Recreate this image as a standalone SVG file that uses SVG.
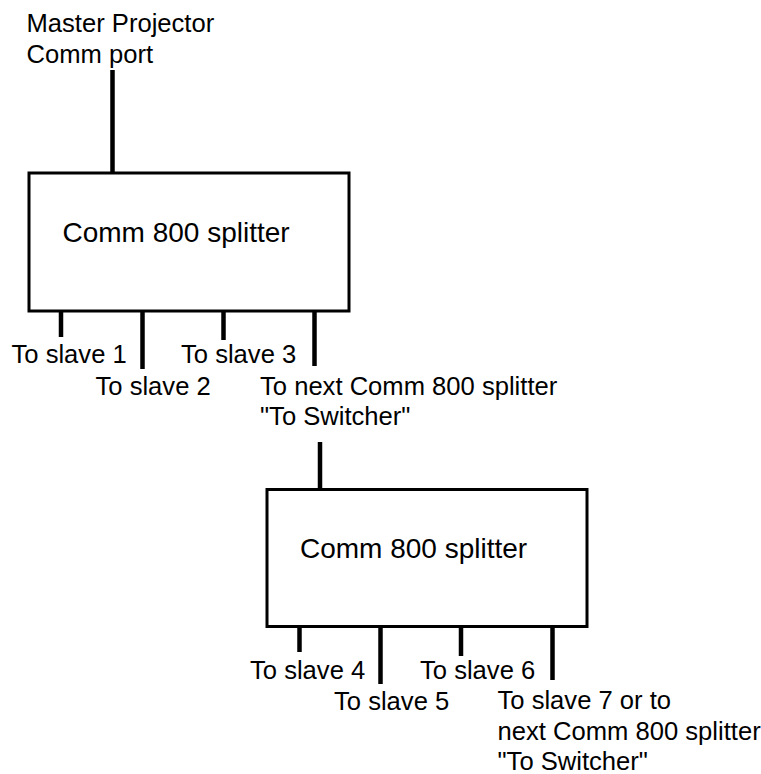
<svg xmlns="http://www.w3.org/2000/svg" width="761" height="774" viewBox="0 0 761 774">
<style>
.box{fill:#fff;stroke:#000;stroke-width:3}
.w{stroke:#000;stroke-width:4.5;fill:none}
.t{font-family:"Liberation Sans",Arial,sans-serif;font-size:25.6px;fill:#000}
.bt{font-family:"Liberation Sans",Arial,sans-serif;font-size:28px;fill:#000}
</style>
<rect width="761" height="774" fill="#fff"/>
<g id="connectors">
<line class="w" x1="112.5" y1="70" x2="112.5" y2="173"/>
<line class="w" x1="61" y1="311" x2="61" y2="337"/>
<line class="w" x1="142.5" y1="311" x2="142.5" y2="369"/>
<line class="w" x1="223.5" y1="311" x2="223.5" y2="340"/>
<line class="w" x1="314.5" y1="311" x2="314.5" y2="366"/>
<line class="w" x1="320" y1="442" x2="320" y2="489"/>
<line class="w" x1="299.5" y1="627" x2="299.5" y2="652"/>
<line class="w" x1="380.5" y1="627" x2="380.5" y2="684"/>
<line class="w" x1="461" y1="627" x2="461" y2="656"/>
<line class="w" x1="552.5" y1="627" x2="552.5" y2="680"/>
</g>
<g id="master">
<text class="t" x="26.5" y="32">Master Projector</text>
<text class="t" x="26.5" y="63">Comm port</text>
</g>
<g id="splitter1">
<rect class="box" x="29" y="173" width="320" height="138"/>
<text class="bt" x="62.5" y="242">Comm 800 splitter</text>
</g>
<g id="slave1"><text class="t" x="11.5" y="363">To slave 1</text></g>
<g id="slave2"><text class="t" x="95.5" y="395">To slave 2</text></g>
<g id="slave3"><text class="t" x="181" y="363">To slave 3</text></g>
<g id="next1">
<text class="t" x="260" y="395">To next Comm 800 splitter</text>
<text class="t" x="260" y="425">"To Switcher"</text>
</g>
<g id="splitter2">
<rect class="box" x="267" y="489.5" width="320" height="137"/>
<text class="bt" x="300" y="558">Comm 800 splitter</text>
</g>
<g id="slave4"><text class="t" x="250" y="679">To slave 4</text></g>
<g id="slave5"><text class="t" x="334" y="710">To slave 5</text></g>
<g id="slave6"><text class="t" x="420" y="679">To slave 6</text></g>
<g id="slave7">
<text class="t" x="497.5" y="709">To slave 7 or to</text>
<text class="t" x="497.5" y="740">next Comm 800 splitter</text>
<text class="t" x="497.5" y="770">"To Switcher"</text>
</g>
</svg>
